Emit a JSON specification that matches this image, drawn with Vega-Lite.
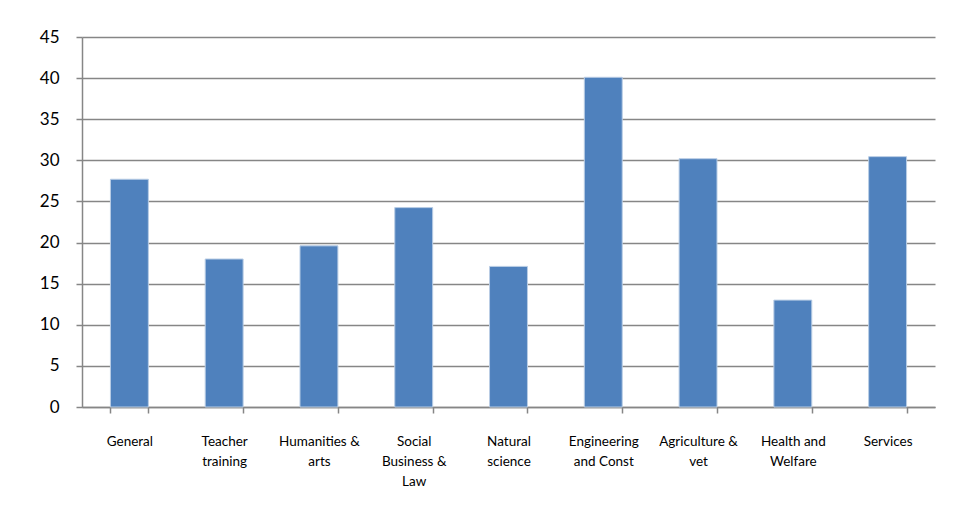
{
  "$schema": "https://vega.github.io/schema/vega-lite/v6.json",
  "width": 853,
  "height": 370,
  "autosize": {"type": "none"},
  "padding": {"left": 82, "top": 37, "right": 18, "bottom": 105},
  "background": "white",
  "config": {
    "view": {"stroke": null},
    "font": "Lato"
  },
  "data": {
    "values": [
      {"field": "General", "value": 27.7},
      {"field": "Teacher training", "value": 18.0},
      {"field": "Humanities & arts", "value": 19.6},
      {"field": "Social Business & Law", "value": 24.25},
      {"field": "Natural science", "value": 17.1},
      {"field": "Engineering and Const", "value": 40.1},
      {"field": "Agriculture & vet", "value": 30.2},
      {"field": "Health and Welfare", "value": 13.0},
      {"field": "Services", "value": 30.45}
    ]
  },
  "mark": {"type": "bar", "color": "#4F81BD", "stroke": "#B9CDE5", "strokeWidth": 1},
  "encoding": {
    "x": {
      "field": "field",
      "type": "nominal",
      "sort": null,
      "scale": {"paddingInner": 0.6, "paddingOuter": 0.3},
      "axis": {
        "title": null,
        "labelAngle": 0,
        "labelFontSize": 13.5,
        "labelColor": "#000000",
        "labelPadding": 21,
        "labelLineHeight": 20,
        "labelFont": "Lato",
        "tickBand": "extent",
        "tickSize": 6,
        "tickColor": "#868686",
        "tickWidth": 1.5,
        "domainColor": "#868686",
        "domainWidth": 1.5,
        "labelExpr": "datum.value == 'Teacher training' ? ['Teacher', 'training'] : datum.value == 'Humanities & arts' ? ['Humanities &', 'arts'] : datum.value == 'Social Business & Law' ? ['Social', 'Business &', 'Law'] : datum.value == 'Natural science' ? ['Natural', 'science'] : datum.value == 'Engineering and Const' ? ['Engineering', 'and Const'] : datum.value == 'Agriculture & vet' ? ['Agriculture  &', 'vet'] : datum.value == 'Health and Welfare' ? ['Health and', 'Welfare'] : datum.value"
      }
    },
    "y": {
      "field": "value",
      "type": "quantitative",
      "scale": {"domain": [0, 45], "nice": false},
      "axis": {
        "title": null,
        "values": [0, 5, 10, 15, 20, 25, 30, 35, 40, 45],
        "labelFontSize": 17,
        "labelColor": "#000000",
        "labelPadding": 17,
        "tickSize": 6,
        "tickColor": "#868686",
        "tickWidth": 1.5,
        "domainColor": "#868686",
        "domainWidth": 1.5,
        "gridColor": "#868686",
        "gridWidth": 1.5,
        "gridOpacity": 1
      }
    }
  }
}
